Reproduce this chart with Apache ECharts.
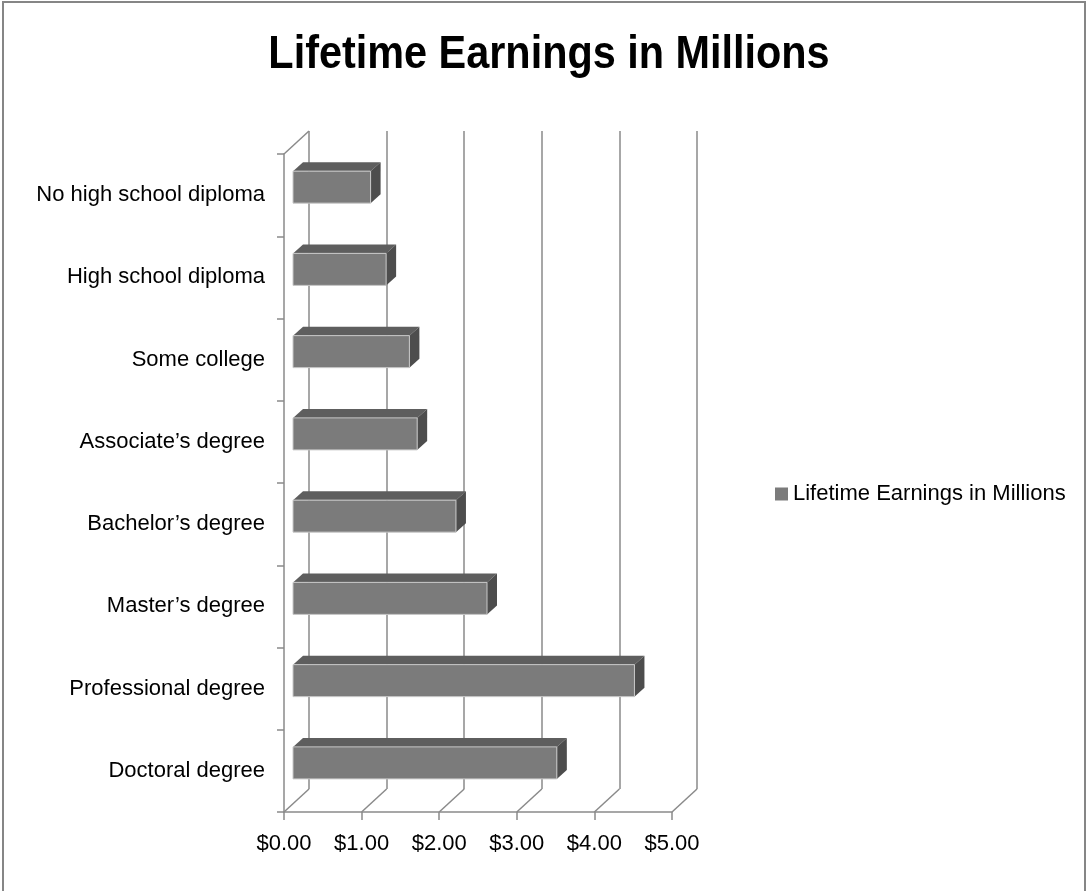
<!DOCTYPE html>
<html>
<head>
<meta charset="utf-8">
<script src="https://cdn.jsdelivr.net/npm/echarts@6/dist/echarts.min.js"></script>
<style>html,body{margin:0;padding:0;background:#fff;}#chart{width:1088px;height:891px;}</style>
</head>
<body>
<div id="chart"></div>
<script>
const titleText = 'Lifetime Earnings in Millions';
const seriesName = 'Lifetime Earnings in Millions';
const categories = ['No high school diploma', 'High school diploma', 'Some college', 'Associate\u2019s degree', 'Bachelor\u2019s degree', 'Master\u2019s degree', 'Professional degree', 'Doctoral degree'];
const values = [1.0, 1.2, 1.5, 1.6, 2.1, 2.5, 4.4, 3.4];
const xTickValues = [0, 1, 2, 3, 4, 5];

const chart = echarts.init(document.getElementById('chart'), null, {renderer: 'canvas'});
const gridColor = '#8a8a8a';
const DEPTH_X = 25, DEPTH_Y = -23;
const FONT = '"Liberation Sans", Arial, sans-serif';

const option = {
  animation: false,
  backgroundColor: '#fff',
  legend: {
    data: [seriesName], left: 770, top: 478, icon: 'rect', itemWidth: 13, itemHeight: 13, itemGap: 5,
    textStyle: {fontFamily: FONT, fontSize: 22, color: '#000'}
  },
  grid: [
    {left: 284, top: 154, width: 388, height: 658},
    {left: 284 + DEPTH_X, top: 154 + DEPTH_Y, width: 388, height: 658}
  ],
  xAxis: [
    {gridIndex: 0, type: 'value', min: 0, max: 5, interval: 1,
     axisLine: {show: true, lineStyle: {color: gridColor, width: 1.5}},
     axisTick: {show: true, length: 8, lineStyle: {color: gridColor, width: 1.5}},
     splitLine: {show: false},
     axisLabel: {formatter: v => '$' + v.toFixed(2), fontSize: 22, margin: 21, color: '#000', fontFamily: FONT}},
    {gridIndex: 1, type: 'value', min: 0, max: 5, interval: 1,
     axisLine: {show: false}, axisTick: {show: false}, axisLabel: {show: false},
     splitLine: {show: true, lineStyle: {color: gridColor, width: 1.5}}}
  ],
  yAxis: [
    {gridIndex: 0, type: 'category', data: categories, inverse: true,
     axisLine: {show: true, lineStyle: {color: gridColor, width: 1.5}},
     axisTick: {show: true, length: 7, lineStyle: {color: gridColor, width: 1.5}},
     axisLabel: {fontSize: 22, color: '#000', margin: 19, fontFamily: FONT},
     splitLine: {show: false}},
    {gridIndex: 1, type: 'category', data: categories, inverse: true, show: false}
  ],
  series: [
    {
      type: 'custom', name: 'frame', xAxisIndex: 0, yAxisIndex: 0, z: 1, silent: true,
      data: xTickValues.map(v => [v, 0]),
      renderItem: function (params, api) {
        const cs = params.coordSys;
        const v = api.value(0);
        const x = api.coord([v, 0])[0];
        const yb = cs.y + cs.height;
        const children = [{
          type: 'line', shape: {x1: x, y1: yb, x2: x + DEPTH_X, y2: yb + DEPTH_Y},
          style: {stroke: gridColor, lineWidth: 1.5}
        }];
        if (v === 0) {
          children.push({
            type: 'line', shape: {x1: x, y1: cs.y, x2: x + DEPTH_X, y2: cs.y + DEPTH_Y},
            style: {stroke: gridColor, lineWidth: 1.5}
          });
        }
        return {type: 'group', children: children};
      }
    },
    {
      type: 'custom', name: seriesName, xAxisIndex: 0, yAxisIndex: 0, z: 5,
      itemStyle: {color: '#7b7b7b'},
      data: values.map((v, i) => [v, i]),
      renderItem: function (params, api) {
        const i = api.value(1), v = api.value(0);
        const p0 = api.coord([0, i]), p1 = api.coord([v, i]);
        const ox = 9, oy = -8, h = 32, dx = 10, dy = -9;
        const x0 = p0[0] + ox, x1 = p1[0] + ox;
        const yt = p0[1] + oy - h / 2, yb = yt + h;
        return {type: 'group', children: [
          {type: 'polygon', shape: {points: [[x0, yt], [x1, yt], [x1 + dx, yt + dy], [x0 + dx, yt + dy]]}, style: {fill: '#5e5e5e'}},
          {type: 'polygon', shape: {points: [[x1, yt], [x1 + dx, yt + dy], [x1 + dx, yb + dy], [x1, yb]]}, style: {fill: '#4d4d4d'}},
          {type: 'rect', shape: {x: x0, y: yt, width: x1 - x0, height: h}, style: {fill: '#7b7b7b', stroke: '#c8c8c8', lineWidth: 1}}
        ]};
      }
    }
  ],
  graphic: [
    {type: 'text', x: 549, y: 55, originX: 0, scaleX: 0.9, silent: true,
     style: {text: titleText, fontFamily: FONT, fontWeight: 'bold', fontSize: 46, fill: '#000', align: 'center', verticalAlign: 'middle'}},
    {type: 'rect', shape: {x: 3, y: 2, width: 1082, height: 900}, style: {fill: 'none', stroke: '#868686', lineWidth: 2}, z: 100, silent: true}
  ]
};
chart.setOption(option);
</script>
</body>
</html>
